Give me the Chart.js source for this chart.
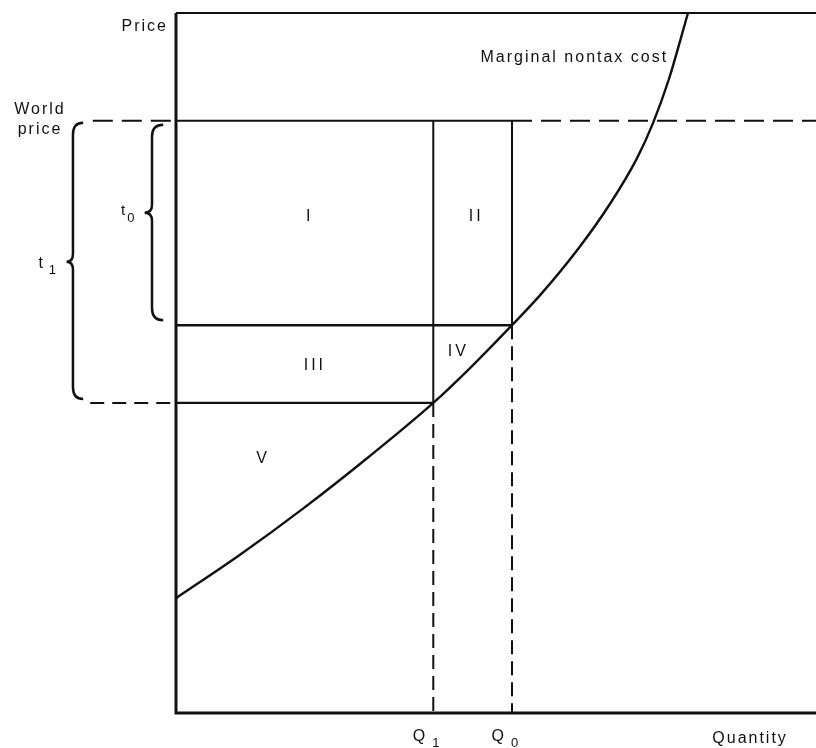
<!DOCTYPE html>
<html>
<head>
<meta charset="utf-8">
<script src="https://cdn.jsdelivr.net/npm/chart.js@4/dist/chart.umd.min.js"></script>
<style>
  html, body { margin: 0; padding: 0; background: #fff; }
  #wrap { width: 816px; height: 748px; }
</style>
</head>
<body>
<div id="wrap"><canvas id="chart"></canvas></div>
<script>
// marginal nontax cost curve
const costQuantity = [0, 10, 20, 30, 40.2, 46.3, 52.5, 57, 63, 68, 72, 74.5, 77, 80];
const costPrice = [16.4, 22.6, 29.3, 36.5, 44.3, 49.6, 55.4, 59.8, 66.5, 73.0, 79.2, 84.2, 90.5, 100];
// Q1, Q0
const quantities = [40.2, 52.5];
const quantitySubs = ['1', '0'];
// world price, cost at Q0, cost at Q1
const prices = [84.6, 55.4, 44.3];
const regionLabels = ['I', 'II', 'III', 'IV', 'V'];

const [Q1, Q0] = quantities;
const [PW, P0, P1] = prices;
const INK = '#111';

// where the roman numerals sit (data units)
const regionSpots = [[20.9, 70.9], [46.9, 70.9], [21.7, 49.7], [44.1, 51.6], [13.6, 36.4]];

function seg(a, b, width, dash) {
  return {
    data: [a, b],
    borderColor: INK,
    borderWidth: width,
    borderDash: dash || [],
    pointRadius: 0,
    fill: false,
    tension: 0
  };
}

function brace(ctx, xl, top, bot, tip, tipX, endX) {
  ctx.beginPath();
  ctx.moveTo(endX, top);
  ctx.quadraticCurveTo(xl, top, xl, top + 12);
  ctx.lineTo(xl, tip - 8);
  ctx.quadraticCurveTo(xl, tip, tipX, tip);
  ctx.quadraticCurveTo(xl, tip, xl, tip + 8);
  ctx.lineTo(xl, bot - 12);
  ctx.quadraticCurveTo(xl, bot, endX, bot);
  ctx.stroke();
}

const annotate = {
  id: 'annotate',
  afterDatasetsDraw(chart) {
    const { ctx, scales: { x, y } } = chart;
    const X = v => x.getPixelForValue(v);
    const Y = v => y.getPixelForValue(v);
    const font = s => s + 'px "Liberation Sans", Arial, sans-serif';
    ctx.save();
    ctx.fillStyle = INK;
    ctx.strokeStyle = INK;
    ctx.textBaseline = 'middle';

    // braces for t1 and t0
    ctx.lineWidth = 2.5;
    brace(ctx, X(-16.1), Y(PW) + 2, Y(P1) - 4, (Y(PW) + Y(P1)) / 2, X(-17.1), X(-14.5));
    brace(ctx, X(-3.75), Y(PW) + 4, Y(P0) - 5, Y(PW) + 92, X(-4.9), X(-2.0));

    ctx.font = font(16);
    ctx.letterSpacing = '2px';
    ctx.textAlign = 'right';
    ctx.fillText('Price', X(0) - 8, Y(98));
    ctx.textAlign = 'center';
    ctx.fillText('World', X(-21.25), Y(PW) - 11);
    ctx.fillText('price', X(-21.25), Y(PW) + 9);
    ctx.textAlign = 'right';
    ctx.fillText('Marginal nontax cost', X(76.9), Y(93.6));
    ctx.textAlign = 'center';
    ctx.fillText('Quantity', X(89.7), Y(-3.6));

    // t1, t0
    ctx.textAlign = 'left';
    ctx.font = font(16);
    ctx.fillText('t', X(-21.5), (Y(PW) + Y(P1)) / 2 + 2);
    ctx.font = font(13);
    ctx.fillText('1', X(-19.9), (Y(PW) + Y(P1)) / 2 + 9);
    ctx.font = font(15);
    ctx.fillText('t', X(-8.6), Y(PW) + 90);
    ctx.font = font(13);
    ctx.fillText('0', X(-7.6), Y(PW) + 98);

    // Q1, Q0
    quantities.forEach((q, i) => {
      ctx.font = font(16);
      ctx.textAlign = 'right';
      ctx.fillText('Q', X(q) - 6, Y(-3.4));
      ctx.font = font(13);
      ctx.textAlign = 'left';
      ctx.fillText(quantitySubs[i], X(q) - 1, Y(-4.3));
    });

    // regions
    ctx.font = font(16);
    ctx.letterSpacing = '3px';
    ctx.textAlign = 'center';
    regionLabels.forEach((t, i) => {
      ctx.fillText(t, X(regionSpots[i][0]), Y(regionSpots[i][1]));
    });
    ctx.restore();
  }
};

new Chart(document.getElementById('chart'), {
  type: 'line',
  data: {
    datasets: [
      // axes
      { data: [{ x: 0, y: 100 }, { x: 0, y: 0 }, { x: 100, y: 0 }], borderColor: INK, borderWidth: 3, pointRadius: 0, fill: false },
      seg({ x: 0, y: 100 }, { x: 100, y: 100 }, 2),
      // marginal nontax cost
      {
        data: costQuantity.map((q, i) => ({ x: q, y: costPrice[i] })),
        borderColor: INK,
        borderWidth: 2.4,
        pointRadius: 0,
        fill: false,
        cubicInterpolationMode: 'monotone'
      },
      // boxes
      seg({ x: 0, y: PW }, { x: Q0, y: PW }, 2),
      seg({ x: Q1, y: PW }, { x: Q1, y: P1 }, 2),
      seg({ x: Q0, y: PW }, { x: Q0, y: P0 }, 2),
      seg({ x: 0, y: P0 }, { x: Q0, y: P0 }, 2.4),
      seg({ x: 0, y: P1 }, { x: Q1, y: P1 }, 2.4),
      // dashed guides
      seg({ x: -13, y: PW }, { x: 0, y: PW }, 2, [20, 9]),
      seg({ x: Q0, y: PW }, { x: 100, y: PW }, 2, [20, 9]),
      seg({ x: -13.4, y: P1 }, { x: 0, y: P1 }, 2, [14, 8]),
      seg({ x: Q1, y: P1 }, { x: Q1, y: 0 }, 2, [14, 7]),
      seg({ x: Q0, y: P0 }, { x: Q0, y: 0 }, 2, [14, 7])
    ]
  },
  options: {
    responsive: true,
    maintainAspectRatio: false,
    animation: false,
    layout: { padding: 0 },
    plugins: { legend: { display: false }, tooltip: { enabled: false } },
    scales: {
      x: { type: 'linear', min: -27.5, max: 100, display: false },
      y: { type: 'linear', min: -5, max: 101.857, display: false }
    }
  },
  plugins: [annotate]
});
</script>
</body>
</html>
